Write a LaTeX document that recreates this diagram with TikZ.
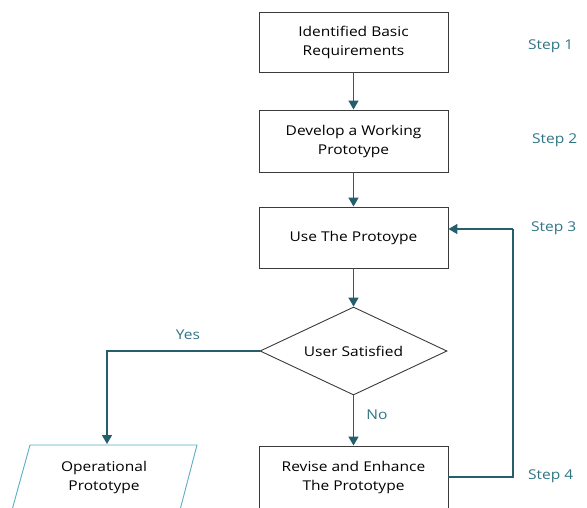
\documentclass[tikz,border=0pt]{standalone}
\usepackage{fontspec}
\setmainfont[FakeStretch=1.15]{Open Sans}
\usetikzlibrary{shapes.geometric,arrows.meta}
\definecolor{arrowc}{HTML}{255F6E}
\definecolor{labelc}{HTML}{2F7484}
\definecolor{paral}{HTML}{5AADC3}
\definecolor{boxc}{HTML}{3A3A3A}
\tikzset{
  txt/.style={font=\fontsize{13.5}{19}\selectfont},
  stepbox/.style={draw=boxc, line width=0.9pt, minimum width=189pt, align=center, inner sep=0pt, txt},
  decision/.style={diamond, aspect=2.125, draw=boxc, line width=0.9pt, minimum width=187pt, minimum height=88pt, inner sep=0pt, txt},
  steplabel/.style={text=labelc, txt, anchor=west, inner sep=0pt},
  flow/.style={draw=arrowc, line width=1.6pt, -{Triangle[length=9pt,width=10pt]}},
  plainline/.style={draw=arrowc, line width=1.6pt},
}
\begin{document}
\begin{tikzpicture}[x=1pt,y=-1pt]
\useasboundingbox (0,0) rectangle (587,507);
\clip (0,0) rectangle (587,507);
\node[stepbox, minimum height=60pt] (b1) at (353.5,42) {Identified Basic\\Requirements};
\node[stepbox, minimum height=62pt] (b2) at (353.5,141) {Develop a Working\\Prototype};
\node[stepbox, minimum height=61pt] (b3) at (353.5,237.5) {Use The Protoype};
\node[decision] (d) at (353.5,351) {User Satisfied};
\node[stepbox, minimum height=62pt] (b4) at (353.5,477) {Revise and Enhance\\The Prototype};
\coordinate (pa) at (30,445);
\coordinate (pb) at (197,445);
\coordinate (pc) at (180,510);
\coordinate (pd) at (12,510);
\draw[paral, line width=0.9pt] (pd) -- (pa) -- (pb) -- (pc);
\node[align=center, txt, inner sep=0pt] (op) at (104,477) {Operational\\Prototype};
\coordinate (opin) at (107,444);
\coordinate (ycorner) at (107,351);
\coordinate (fbr) at (513,477);
\coordinate (fbt) at (513,229);
\draw[flow] (b1) -- (b2);
\draw[flow] (b2) -- (b3);
\draw[flow] (b3) -- (d);
\draw[flow] (d) -- (b4);
\draw[flow] (d.west) -- (ycorner) -- (opin);
\draw[plainline] (b4.east |- fbr) -- (fbr) -- (fbt);
\draw[flow] (fbt) -- (b3.east |- fbt);
\node[text=labelc, txt, inner sep=0pt] (yes) at (188,335) {Yes};
\node[text=labelc, txt, inner sep=0pt] (no) at (377,415) {No};
\node[steplabel] (s1) at (528,46) {Step 1};
\node[steplabel] (s2) at (532,140) {Step 2};
\node[steplabel] (s3) at (531,228) {Step 3};
\node[steplabel] (s4) at (528,476) {Step 4};
\end{tikzpicture}
\end{document}
